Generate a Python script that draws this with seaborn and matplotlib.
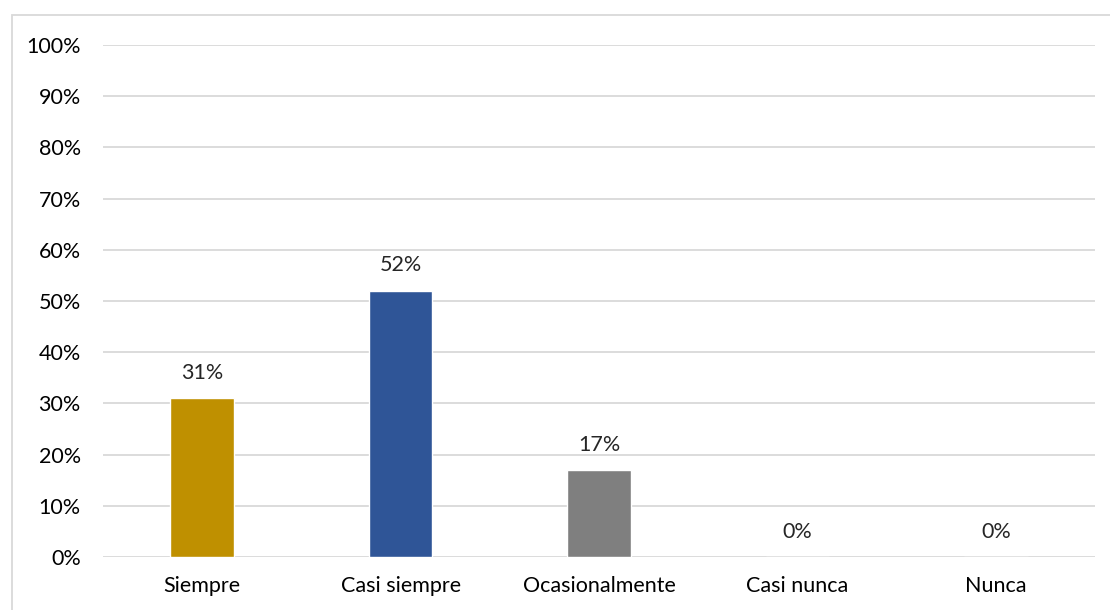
import matplotlib
matplotlib.use("Agg")
import matplotlib.pyplot as plt
import matplotlib.patches as mpatches
import seaborn as sns
import pandas as pd
from matplotlib.ticker import PercentFormatter, MultipleLocator

sns.set_style("white")
plt.rcParams['font.family'] = ['Lato', 'DejaVu Sans']

# datos
categorias = ["Siempre", "Casi siempre", "Ocasionalmente", "Casi nunca", "Nunca"]
porcentajes = [31, 52, 17, 0, 0]
colores = ["#BF9000", "#2F5597", "#7F7F7F", "#4472C4", "#A5A5A5"]

df = pd.DataFrame({"categoria": categorias, "valor": porcentajes})

fig = plt.figure(figsize=(11.1, 6.1), dpi=100)
ax = fig.add_axes([103 / 1110, 1 - 557 / 610, 992 / 1110, 512 / 610])

sns.barplot(data=df, x="categoria", y="valor", hue="categoria", palette=colores,
            width=0.32, legend=False, ax=ax, saturation=1)

ax.set_ylim(0, 100)
ax.yaxis.set_major_locator(MultipleLocator(10))
ax.yaxis.set_major_formatter(PercentFormatter(decimals=0))
ax.grid(axis="y", color="#D9D9D9", linewidth=1.3)
ax.set_axisbelow(True)
for s in ax.spines.values():
    s.set_visible(False)
ax.tick_params(axis="both", length=0, labelsize=15.5, colors="#000000")
ax.tick_params(axis="y", pad=16)
ax.tick_params(axis="x", pad=14)
ax.set_xlabel("")
ax.set_ylabel("")

# etiquetas de datos
for i, v in enumerate(porcentajes):
    ax.text(i, v + 3.0, f"{v}%", ha="center", va="bottom", fontsize=15.5)

# borde del gráfico
fig.patches.append(mpatches.Rectangle((12 / 1110, -0.1), 1.2, 0.1 + (610 - 15) / 610,
                                      transform=fig.transFigure, fill=False,
                                      edgecolor="#D9D9D9", linewidth=1.3))

fig.savefig("out.png", dpi=100)
